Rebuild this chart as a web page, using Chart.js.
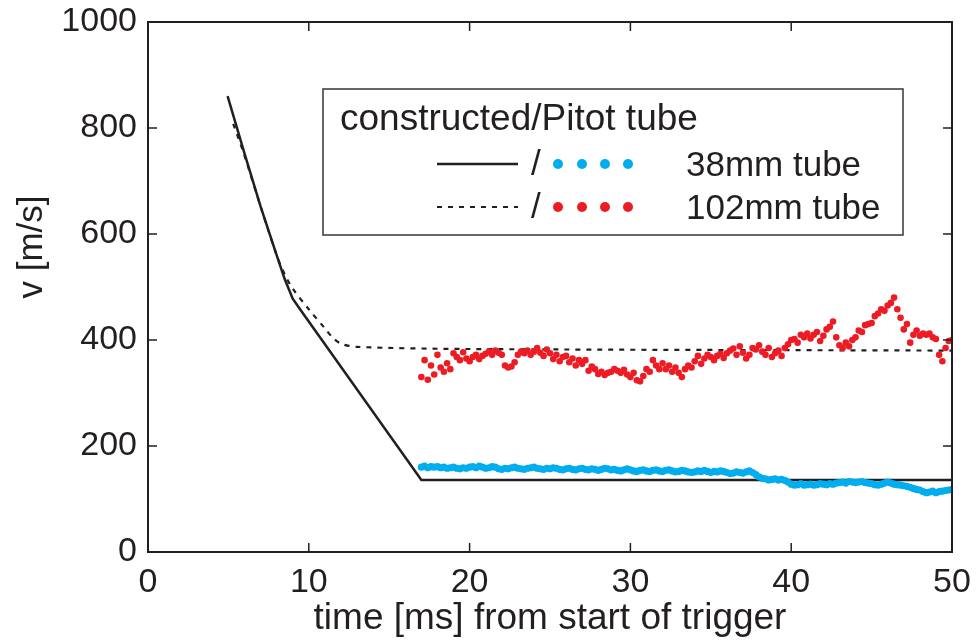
<!DOCTYPE html>
<html>
<head>
<meta charset="utf-8">
<title>v [m/s] vs time</title>
<script src="https://cdn.jsdelivr.net/npm/chart.js@4.4.1/dist/chart.umd.min.js"></script>
<style>
  html, body { margin: 0; padding: 0; background: #fff; }
  #chart { display: block; }
</style>
</head>
<body>
<canvas id="chart" width="978" height="644"></canvas>
<script>
// constructed velocity curves (time in ms, v in m/s)
const constructedTime38 = [4.95, 6, 7, 8, 8.5, 9, 9.5, 17, 50];
const constructedV38 = [860, 752, 652, 560, 515, 478, 456, 136, 136];
const constructedTime102 = [5.3, 6, 7, 8, 8.5, 9, 10, 11, 11.5, 12, 13, 20, 50];
const constructedV102 = [808, 748, 652, 560, 524, 497, 458, 422, 404, 393, 387, 383, 380];

// Pitot tube samples, one every 0.2 ms from 17 ms
const pitotStart = 17;
const pitotStep = 0.2;
const pitot38 = [
  160, 162, 159, 161, 160,  161, 159, 160, 158, 159,  160, 158, 157, 159, 158,
  160, 161, 159, 162, 160,  158, 159, 161, 160, 157,  156, 158, 157, 159, 160,
  158, 157, 156, 158, 159,  160, 158, 157, 156, 158,  157, 159, 158, 156, 155,
  157, 158, 156, 155, 157,  158, 156, 155, 157, 156,  154, 156, 158, 157, 155,
  156, 154, 153, 155, 157,  155, 153, 152, 154, 155,  153, 152, 154, 155, 153,
  152, 154, 155, 153, 151,  152, 154, 153, 151, 150,  151, 153, 152, 154, 152,
  150, 152, 151, 153, 152,  150, 148, 149, 151, 150,  149, 151, 153, 150, 146,
  142, 139, 138, 136, 137,  138, 136, 137, 135, 132,  128, 126, 127, 129, 126,
  127, 128, 126, 127, 129,  128, 127, 129, 128, 130,  131, 132, 130, 133, 132,
  131, 132, 133, 131, 130,  129, 127, 126, 128, 130,  132, 130, 128, 127, 126,
  125, 124, 122, 120, 118,  117, 114, 112, 113, 115,  112, 114, 115, 116, 117,
  118
];
const pitot102 = [
  330, 362, 325, 352, 335,  372, 348, 340, 356, 345,  375, 368, 362, 377, 365,
  360, 368, 372, 364, 370,  374, 378, 372, 380, 376,  372, 352, 348, 350, 358,
  372, 378, 375, 380, 372,  378, 385, 376, 370, 382,  375, 364, 372, 360, 368,
  370, 358, 365, 352, 362,  355, 362, 342, 350, 345,  336, 340, 334, 338, 340,
  345, 342, 338, 344, 335,  330, 338, 324, 322, 332,  345, 340, 362, 352, 345,
  356, 345, 352, 340, 348,  338, 330, 345, 352, 348,  360, 370, 355, 365, 372,
  368, 362, 370, 374, 366,  375, 380, 384, 372, 388,  376, 365, 372, 385, 382,
  390, 378, 372, 385, 368,  375, 380, 370, 385, 392,  400, 402, 395, 410, 405,
  412, 403, 410, 415, 398,  408, 420, 425, 435, 405,  390, 385, 395, 388, 400,
  405, 418, 415, 428, 430,  432, 445, 450, 458, 455,  465, 470, 480, 458, 442,
  420, 430, 395, 410, 418,  408, 412, 410, 412, 405,  402, 372, 360, 385, 398,
  400
];

const xTicks = [0, 10, 20, 30, 40, 50];
const yTicks = [0, 200, 400, 600, 800, 1000];

const legendTitle = 'constructed/Pitot tube';
const label38 = '38mm tube';
const label102 = '102mm tube';

const textColor = '#231f20';
const cyan = '#00aeef';
const red = '#ed1c24';
const fontFamily = '"Liberation Sans", Arial, Helvetica, sans-serif';
const tickFont = { family: fontFamily, size: 34 };
const titleFont = { family: fontFamily, size: 37 };

function toPoints(times, values) {
  return values.map((v, i) => ({ x: times[i], y: v }));
}
function sampled(values) {
  return values.map((v, i) => ({ x: pitotStart + i * pitotStep, y: v }));
}

// box + inward tick marks on all four sides
const frameTicks = {
  id: 'frameTicks',
  afterDraw(chart) {
    const { ctx, chartArea: a, scales: { x, y } } = chart;
    ctx.save();
    ctx.strokeStyle = textColor;
    ctx.lineWidth = 2;
    ctx.strokeRect(a.left, a.top, a.right - a.left, a.bottom - a.top);
    ctx.beginPath();
    x.ticks.forEach(t => {
      const px = x.getPixelForValue(t.value);
      ctx.moveTo(px, a.bottom); ctx.lineTo(px, a.bottom - 9);
      ctx.moveTo(px, a.top); ctx.lineTo(px, a.top + 9);
    });
    y.ticks.forEach(t => {
      const py = y.getPixelForValue(t.value);
      ctx.moveTo(a.left, py); ctx.lineTo(a.left + 9, py);
      ctx.moveTo(a.right, py); ctx.lineTo(a.right - 9, py);
    });
    ctx.lineWidth = 1.5;
    ctx.stroke();

    // y axis title sits a bit above the middle in the original
    ctx.translate(32, 247);
    ctx.rotate(-Math.PI / 2);
    ctx.font = '35px ' + fontFamily;
    ctx.fillStyle = textColor;
    ctx.textAlign = 'center';
    ctx.textBaseline = 'middle';
    ctx.fillText('v [m/s]', 0, 0);
    ctx.restore();
  }
};

// boxed legend: line sample / dot sample  label
const boxLegend = {
  id: 'boxLegend',
  afterDraw(chart) {
    const ctx = chart.ctx;
    const ds = chart.data.datasets;
    ctx.save();
    ctx.fillStyle = '#fff';
    ctx.fillRect(323, 89, 580, 146);
    ctx.strokeStyle = '#3a3536';
    ctx.lineWidth = 1.5;
    ctx.strokeRect(323, 89, 580, 146);

    ctx.font = '37px ' + fontFamily;
    ctx.fillStyle = textColor;
    ctx.textBaseline = 'middle';
    ctx.fillText(legendTitle, 340, 120);

    ctx.font = '35px ' + fontFamily;
    const rows = [
      { line: ds[2], dots: ds[0], text: label38, y: 164 },
      { line: ds[3], dots: ds[1], text: label102, y: 207 }
    ];
    rows.forEach(r => {
      ctx.beginPath();
      ctx.setLineDash(r.line.borderDash || []);
      ctx.strokeStyle = r.line.borderColor;
      ctx.lineWidth = r.line.borderWidth;
      ctx.moveTo(437, r.y);
      ctx.lineTo(518, r.y);
      ctx.stroke();
      ctx.setLineDash([]);

      ctx.fillStyle = textColor;
      ctx.fillText('/', 531, r.y + 1);

      ctx.fillStyle = r.dots.backgroundColor;
      [558, 582, 605, 628].forEach(dx => {
        ctx.beginPath();
        ctx.arc(dx, r.y, 5, 0, Math.PI * 2);
        ctx.fill();
      });

      ctx.fillStyle = textColor;
      ctx.fillText(r.text, 686, r.y + 2);
    });
    ctx.restore();
  }
};

new Chart(document.getElementById('chart'), {
  type: 'scatter',
  data: {
    datasets: [
      {
        label: 'Pitot ' + label38,
        data: sampled(pitot38),
        backgroundColor: cyan,
        borderColor: cyan,
        pointRadius: 3.6,
        pointBorderWidth: 0
      },
      {
        label: 'Pitot ' + label102,
        data: sampled(pitot102),
        backgroundColor: red,
        borderColor: red,
        pointRadius: 3.3,
        pointBorderWidth: 0
      },
      {
        label: 'constructed ' + label38,
        data: toPoints(constructedTime38, constructedV38),
        showLine: true,
        borderColor: textColor,
        borderWidth: 2.5,
        pointRadius: 0,
        tension: 0
      },
      {
        label: 'constructed ' + label102,
        data: toPoints(constructedTime102, constructedV102),
        showLine: true,
        borderColor: textColor,
        borderWidth: 2.2,
        borderDash: [5, 6],
        pointRadius: 0,
        tension: 0.3
      }
    ]
  },
  options: {
    responsive: false,
    animation: false,
    devicePixelRatio: 1,
    layout: { padding: { left: 0, right: 26, top: 22, bottom: 0 } },
    plugins: {
      legend: { display: false },
      tooltip: { enabled: false }
    },
    scales: {
      x: {
        type: 'linear',
        min: 0,
        max: 50,
        afterBuildTicks: s => { s.ticks = xTicks.map(v => ({ value: v })); },
        afterFit: s => { s.height = 92; s.paddingLeft = 0; s.paddingRight = 0; },
        grid: { display: false, drawTicks: false },
        border: { display: false },
        ticks: { font: tickFont, color: textColor, padding: 10, maxRotation: 0, callback: v => String(v) },
        title: {
          display: true,
          text: 'time [ms] from start of trigger',
          font: titleFont,
          color: textColor,
          padding: { top: 0, bottom: 3 }
        }
      },
      y: {
        type: 'linear',
        min: 0,
        max: 1000,
        afterBuildTicks: s => { s.ticks = yTicks.map(v => ({ value: v })); },
        afterFit: s => { s.width = 148; s.paddingTop = 0; s.paddingBottom = 0; },
        grid: { display: false, drawTicks: false },
        border: { display: false },
        ticks: { font: tickFont, color: textColor, padding: 11, callback: v => String(v) }
      }
    }
  },
  plugins: [frameTicks, boxLegend]
});
</script>
</body>
</html>
